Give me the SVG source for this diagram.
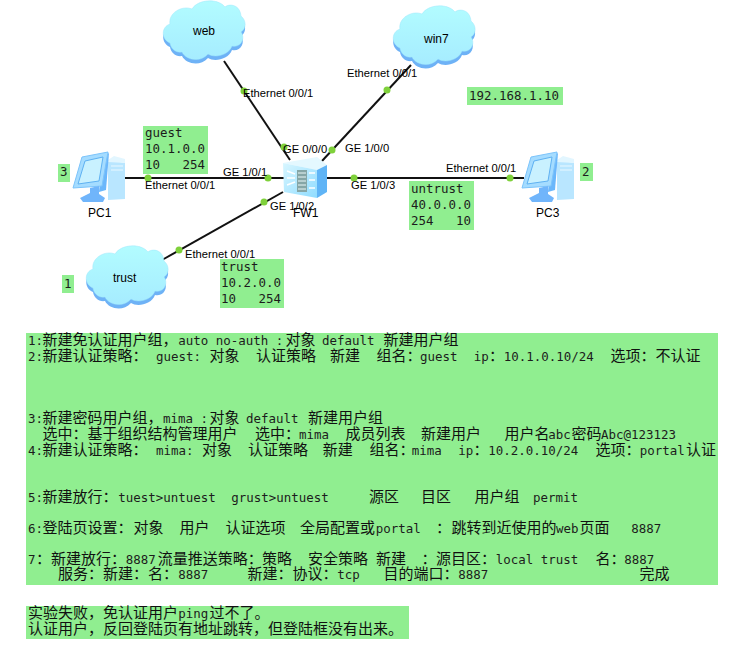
<svg xmlns="http://www.w3.org/2000/svg" width="745" height="645" viewBox="0 0 745 645">
<style>
.n{fill:#90ee90}
.l{stroke:#111;stroke-width:2;fill:none}
.d{fill:#7fd13b}
.a{font:11.2px "Liberation Sans",Arial,sans-serif;fill:#000}
.b{font:12px "Liberation Sans",Arial,sans-serif;fill:#000}
.m{font:12.46px "DejaVu Sans Mono","Liberation Mono",monospace;fill:#1c1c1c;white-space:pre}
.c{font:15px "Noto Sans CJK SC",sans-serif;fill:#111}
</style>
<defs>
<linearGradient id="cg" x1="0" y1="0" x2="0" y2="1"><stop offset="0" stop-color="#b2fcff"/><stop offset="1" stop-color="#a6ecff"/></linearGradient>
<linearGradient id="fg" x1="0" y1="0" x2="1" y2="1"><stop offset="0" stop-color="#d8f6ff"/><stop offset="1" stop-color="#8fdcff"/></linearGradient>
<path id="cp" d="M8 42C-1 38-1 26 8 23C6 12 20 4 30 8C36-2 56-3 63 6C68 2 78 4 79 15C85 20 84 28 79 31C84 38 78 47 70 45C66 55 52 57 46 53C38 62 24 59 20 51C14 52 9 48 8 42Z"/>
<g id="cloud"><use href="#cp" y="4" fill="#6eb2f6"/><use href="#cp" fill="url(#cg)" stroke="#9fe6fb" stroke-width=".5"/></g>
<g id="pc">
<path d="M35 8L52 11V47L35 48Z" fill="#b9e6ff"/>
<path d="M35 8L41 4L52 7V11L35 10Z" fill="#e2f6ff"/>
<path d="M29 6L36 1L33 38L26 40Z" fill="#6bb7fb"/>
<path d="M0 36L9 5L35 0L29 34Z" fill="#a5dcff" stroke="#7cc4fb"/>
<path d="M5 32L12 9L30 5L26 29Z" fill="#c9f1ff" stroke="#5fb1f2"/>
<path d="M7 46L17 41V36L26 34V42L32 46L30 50H10Z" fill="#70b5fb"/>
<path d="M38 14H50M38 18H50" stroke="#eaf8ff"/>
</g>
</defs>

<g id="connectors">
<path class="l" d="M224 61L290 160"/>
<path class="l" d="M125 178H284"/>
<path class="l" d="M162 260L283 192"/>
<path class="l" d="M411 65L322 161"/>
<path class="l" d="M326 178H524"/>
<g class="d">
<circle cx="244" cy="91" r="3.5"/><circle cx="284" cy="147" r="3.5"/>
<circle cx="148" cy="178" r="3.5"/><circle cx="268" cy="178" r="3.5"/>
<circle cx="264" cy="202" r="3.5"/><circle cx="179" cy="250" r="3.5"/>
<circle cx="387" cy="90" r="3.5"/><circle cx="332" cy="150" r="3.5"/>
<circle cx="354" cy="178" r="3.5"/><circle cx="510" cy="178" r="3.5"/>
</g>
</g>

<g id="web"><use href="#cloud" x="162" y="1"/><text class="b" x="193" y="35">web</text></g>
<g id="win7"><use href="#cloud" x="392" y="6"/><text class="b" x="424" y="43">win7</text></g>
<g id="trust"><use href="#cloud" x="85" y="246"/><text class="b" x="113" y="282">trust</text></g>
<g id="PC1"><use href="#pc" x="73" y="152"/><text class="b" x="88" y="217">PC1</text></g>
<g id="PC3"><use href="#pc" x="522" y="152"/><text class="b" x="536" y="217">PC3</text></g>
<g id="FW1">
<path d="M283 163L317 157L327 165L317 170Z" fill="#e4f8ff"/>
<path d="M317 170L327 165V192L317 198Z" fill="#5fb4f6"/>
<path d="M283 163L317 170V198L284 192Z" fill="url(#fg)"/>
<path d="M297 170H307V192H297Z" fill="#86a6a6"/>
<path d="M298 173H306M298 177H306M298 181H306M298 185H306M298 189H306" stroke="#e9f7f7"/>
<path d="M287 171L295 174M287 178H295M287 185L295 182M309 173H315M309 180H315M309 188H315" stroke="#fff" stroke-width="1.5"/>
<text class="b" x="293" y="217">FW1</text>
</g>

<g id="labels">
<text class="a" x="243" y="97">Ethernet 0/0/1</text>
<text class="a" x="283" y="153">GE 0/0/0</text>
<text class="a" x="223" y="176">GE 1/0/1</text>
<text class="a" x="145" y="189">Ethernet 0/0/1</text>
<text class="a" x="270" y="210">GE 1/0/2</text>
<text class="a" x="185" y="258">Ethernet 0/0/1</text>
<text class="a" x="347" y="77">Ethernet 0/0/1</text>
<text class="a" x="345" y="152">GE 1/0/0</text>
<text class="a" x="351" y="189">GE 1/0/3</text>
<text class="a" x="446" y="172">Ethernet 0/0/1</text>
</g>

<g id="notes">
<rect class="n" x="143" y="126" width="65" height="48"/>
<text class="m" x="145" y="137">guest</text><text class="m" x="145" y="153">10.1.0.0</text><text class="m" x="145" y="169">10   254</text>
<rect class="n" x="220" y="259" width="64" height="49"/>
<text class="m" x="221" y="271">trust</text><text class="m" x="221" y="287">10.2.0.0</text><text class="m" x="221" y="303">10   254</text>
<rect class="n" x="409" y="181" width="65" height="49"/>
<text class="m" x="411" y="193">untrust</text><text class="m" x="411" y="209">40.0.0.0</text><text class="m" x="411" y="225">254   10</text>
<rect class="n" x="467" y="87" width="96" height="18"/>
<text class="m" x="469" y="100">192.168.1.10</text>
<rect class="n" x="58" y="164" width="12" height="18"/><text class="m" x="60" y="176">3</text>
<rect class="n" x="62" y="275" width="12" height="18"/><text class="m" x="64" y="288">1</text>
<rect class="n" x="580" y="163" width="13" height="18"/><text class="m" x="582" y="176">2</text>

<rect class="n" x="26" y="333" width="692" height="252"/>
<text class="m" x="28" y="345">1:<tspan class="c" x="42.5">新建免认证用户组&#xFF0C;</tspan><tspan x="178.3">auto no-auth :</tspan><tspan class="c" x="285.5">对象</tspan><tspan x="322">default</tspan><tspan class="c" x="383.5">新建用户组</tspan></text>
<text class="m" x="28" y="361">2:<tspan class="c" x="42.5">新建认证策略&#xFF1A;</tspan><tspan x="156">guest:</tspan><tspan class="c" x="209.5">对象</tspan><tspan class="c" x="256">认证策略</tspan><tspan class="c" x="330">新建</tspan><tspan class="c" x="376.5">组名&#xFF1A;</tspan><tspan x="420">guest</tspan><tspan x="473.7">ip</tspan><tspan class="c" x="489">&#xFF1A;</tspan><tspan x="503.7">10.1.0.10/24</tspan><tspan class="c" x="610.5">选项&#xFF1A;不认证</tspan></text>
<text class="m" x="28" y="423">3:<tspan class="c" x="42.5">新建密码用户组&#xFF0C;</tspan><tspan x="163">mima :</tspan><tspan class="c" x="209.5">对象</tspan><tspan x="246">default</tspan><tspan class="c" x="308">新建用户组</tspan></text>
<text class="m" x="28" y="439"><tspan class="c" x="42.5">选中&#xFF1A;基于组织结构管理用户</tspan><tspan class="c" x="255">选中&#xFF1A;</tspan><tspan x="299">mima</tspan><tspan class="c" x="345.5">成员列表</tspan><tspan class="c" x="421">新建用户</tspan><tspan class="c" x="504.5">用户名</tspan><tspan x="548.3">abc</tspan><tspan class="c" x="571.5">密码</tspan><tspan x="601">Abc@123123</tspan></text>
<text class="m" x="28" y="455">4:<tspan class="c" x="42.5">新建认证策略&#xFF1A;</tspan><tspan x="156">mima:</tspan><tspan class="c" x="202">对象</tspan><tspan class="c" x="248">认证策略</tspan><tspan class="c" x="322.8">新建</tspan><tspan class="c" x="369.5">组名&#xFF1A;</tspan><tspan x="411.7">mima</tspan><tspan x="458.3">ip</tspan><tspan class="c" x="473.5">&#xFF1A;</tspan><tspan x="488.3">10.2.0.10/24</tspan><tspan class="c" x="595.5">选项&#xFF1A;</tspan><tspan x="639.7">portal</tspan><tspan class="c" x="686">认证</tspan></text>
<text class="m" x="28" y="501.5">5:<tspan class="c" x="42.5">新建放行&#xFF1A;</tspan><tspan x="118.3">tuest&gt;untuest</tspan><tspan x="231.3">grust&gt;untuest</tspan><tspan class="c" x="369">源区</tspan><tspan class="c" x="421">目区</tspan><tspan class="c" x="474.5">用户组</tspan><tspan x="533">permit</tspan></text>
<text class="m" x="28" y="533">6:<tspan class="c" x="42.5">登陆页设置&#xFF1A;</tspan><tspan class="c" x="133.5">对象</tspan><tspan class="c" x="179.5">用户</tspan><tspan class="c" x="225.5">认证选项</tspan><tspan class="c" x="300">全局配置或</tspan><tspan x="375.7">portal</tspan><tspan class="c" x="436">&#xFF1A;</tspan><tspan class="c" x="451.5">跳转到近使用的</tspan><tspan x="556">web</tspan><tspan class="c" x="579.5">页面</tspan><tspan x="631.3">8887</tspan></text>
<text class="m" x="28" y="564">7<tspan class="c" x="36">&#xFF1A;</tspan><tspan class="c" x="51">新建放行&#xFF1A;</tspan><tspan x="125.7">8887</tspan><tspan class="c" x="157.8">流量推送策略&#xFF1A;</tspan><tspan class="c" x="262">策略</tspan><tspan class="c" x="308">安全策略</tspan><tspan class="c" x="376">新建</tspan><tspan class="c" x="421.5">&#xFF1A;</tspan><tspan class="c" x="436">源目区&#xFF1A;</tspan><tspan x="495.7">local trust</tspan><tspan class="c" x="595.5">名&#xFF1A;</tspan><tspan x="624.3">8887</tspan></text>
<text class="m" x="28" y="579"><tspan class="c" x="58">服务&#xFF1A;新建&#xFF1A;名&#xFF1A;</tspan><tspan x="178.3">8887</tspan><tspan class="c" x="247.5">新建&#xFF1A;协议&#xFF1A;</tspan><tspan x="337.3">tcp</tspan><tspan class="c" x="383.5">目的端口&#xFF1A;</tspan><tspan x="458.3">8887</tspan><tspan class="c" x="639.5">完成</tspan></text>

<rect class="n" x="26" y="606" width="383" height="33"/>
<text class="m" x="28" y="618"><tspan class="c">实验失败&#xFF0C;免认证用户</tspan><tspan x="178.3">ping</tspan><tspan class="c" x="209.5">过不了。</tspan></text>
<text class="m" x="28" y="633.5"><tspan class="c">认证用户&#xFF0C;反回登陆页有地址跳转&#xFF0C;但登陆框没有出来。</tspan></text>
</g>
</svg>
